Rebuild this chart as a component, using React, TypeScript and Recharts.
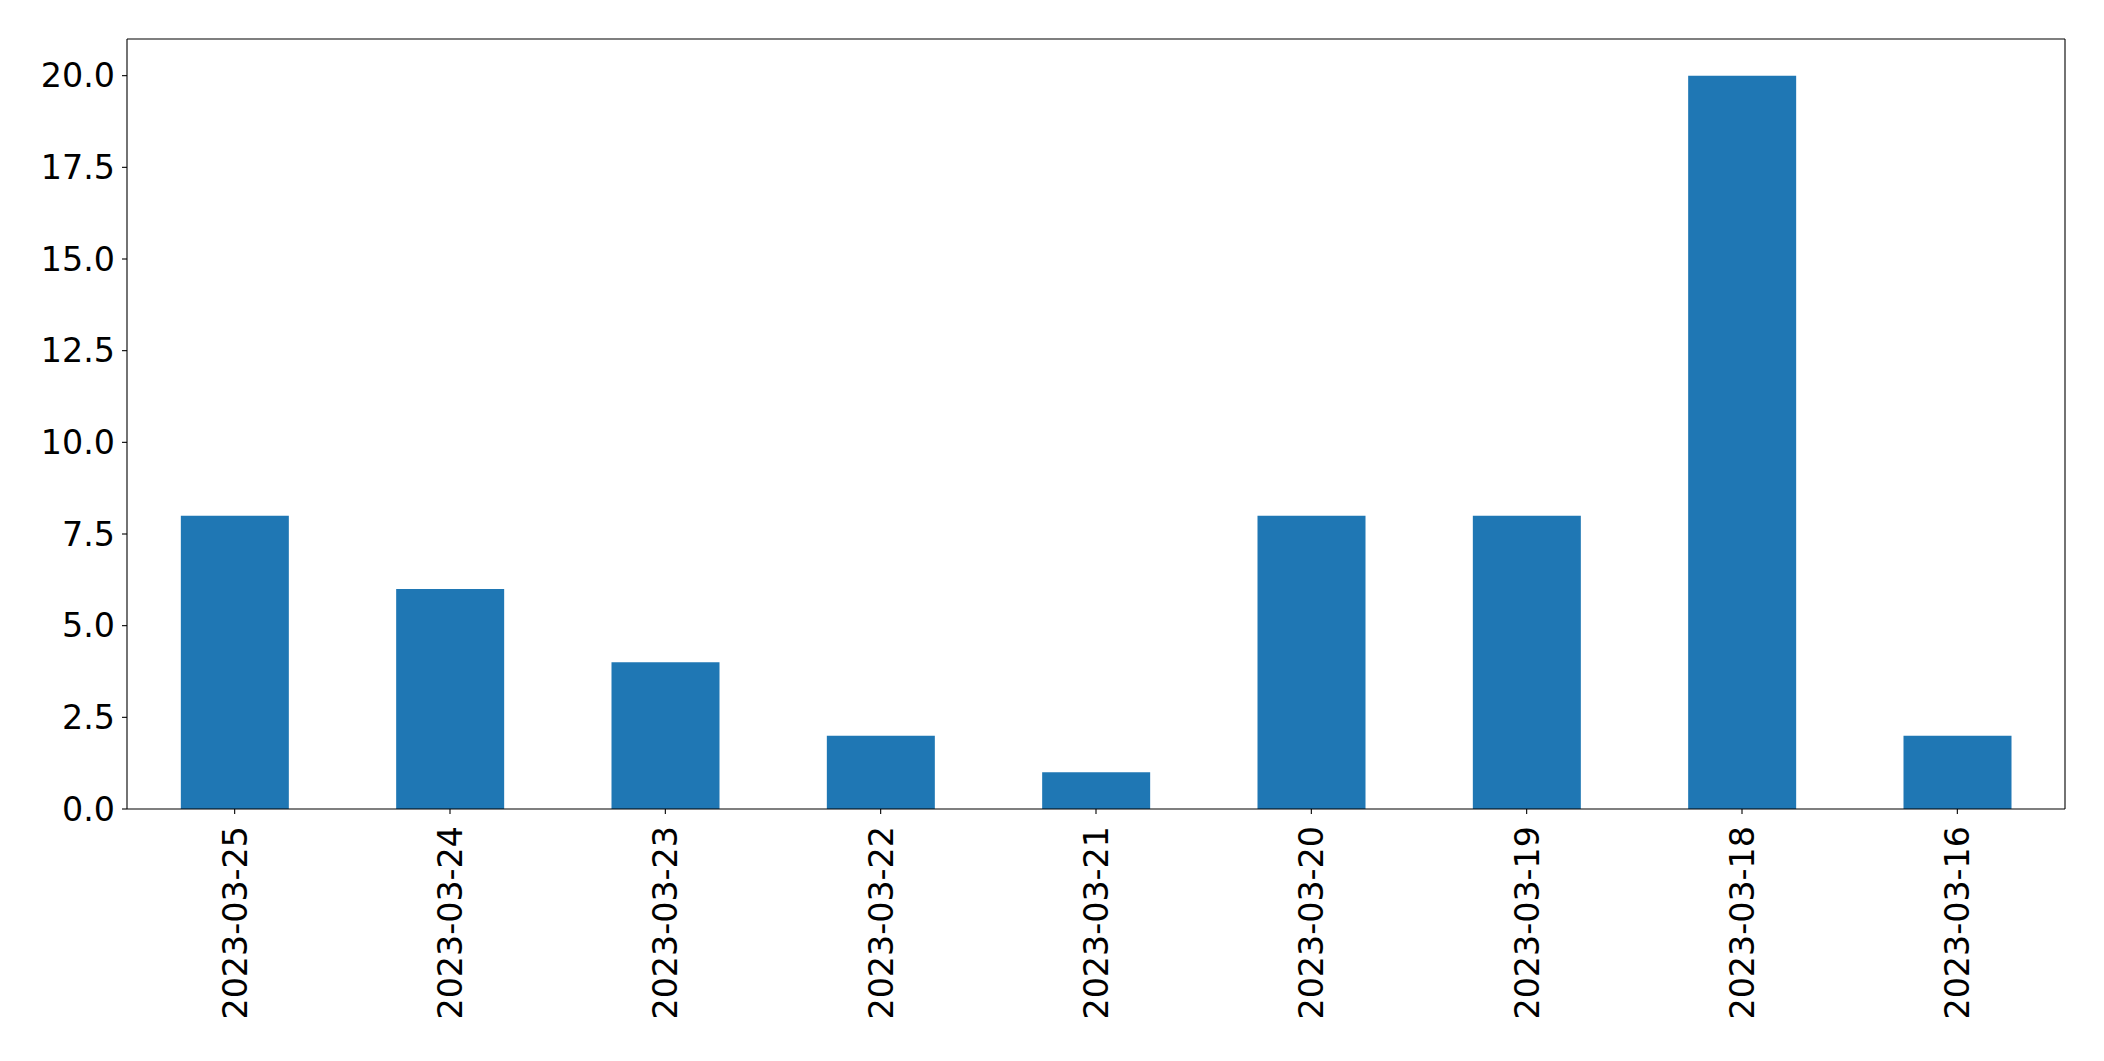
import React from 'react';
import { BarChart, Bar, XAxis, YAxis, ReferenceLine } from 'recharts';

const dates: string[] = [
  '2023-03-25',
  '2023-03-24',
  '2023-03-23',
  '2023-03-22',
  '2023-03-21',
  '2023-03-20',
  '2023-03-19',
  '2023-03-18',
  '2023-03-16',
];
const counts: number[] = [8, 6, 4, 2, 1, 8, 8, 20, 2];
const yTicks: number[] = [0, 2.5, 5, 7.5, 10, 12.5, 15, 17.5, 20];
const yMax = 21;

const data = dates.map((date, i) => ({ date, count: counts[i] }));

const FONT = '"DejaVu Sans", sans-serif';

const DateTick = (props: any) => {
  const { x, y, payload } = props;
  return (
    <text
      transform={`translate(${x},${y}) rotate(-90)`}
      textAnchor="end"
      dy="0.36em"
      fontFamily={FONT}
      fontSize={33.3}
      fill="#000"
    >
      {payload.value}
    </text>
  );
};

const App: React.FC = () => {
  return (
    <div style={{ position: 'absolute', left: 0, top: 0, background: '#fff' }}>
      <BarChart
        width={2104}
        height={1061}
        data={data}
        margin={{ top: 39, right: 39, bottom: 0, left: 0 }}
        barCategoryGap="25%"
      >
        <XAxis
          dataKey="date"
          height={252}
          interval={0}
          tick={<DateTick />}
          tickSize={5}
          tickMargin={12}
          tickLine={{ stroke: '#000', strokeWidth: 1.1 }}
          axisLine={{ stroke: '#000', strokeWidth: 1.1 }}
        />
        <YAxis
          width={127}
          domain={[0, yMax]}
          ticks={yTicks}
          interval={0}
          tickFormatter={(v: number) => v.toFixed(1)}
          tick={{ fontFamily: FONT, fontSize: 33.3, fill: '#000' }}
          tickSize={5}
          tickMargin={7}
          tickLine={{ stroke: '#000', strokeWidth: 1.1 }}
          axisLine={{ stroke: '#000', strokeWidth: 1.1 }}
        />
        <YAxis
          yAxisId="right"
          orientation="right"
          mirror
          width={10}
          domain={[0, yMax]}
          tick={false}
          tickLine={false}
          axisLine={{ stroke: '#000', strokeWidth: 1.1 }}
        />
        <ReferenceLine y={yMax} stroke="#000" strokeWidth={1.1} />
        <Bar dataKey="count" fill="#1f77b4" isAnimationActive={false} />
      </BarChart>
    </div>
  );
};

export default App;
